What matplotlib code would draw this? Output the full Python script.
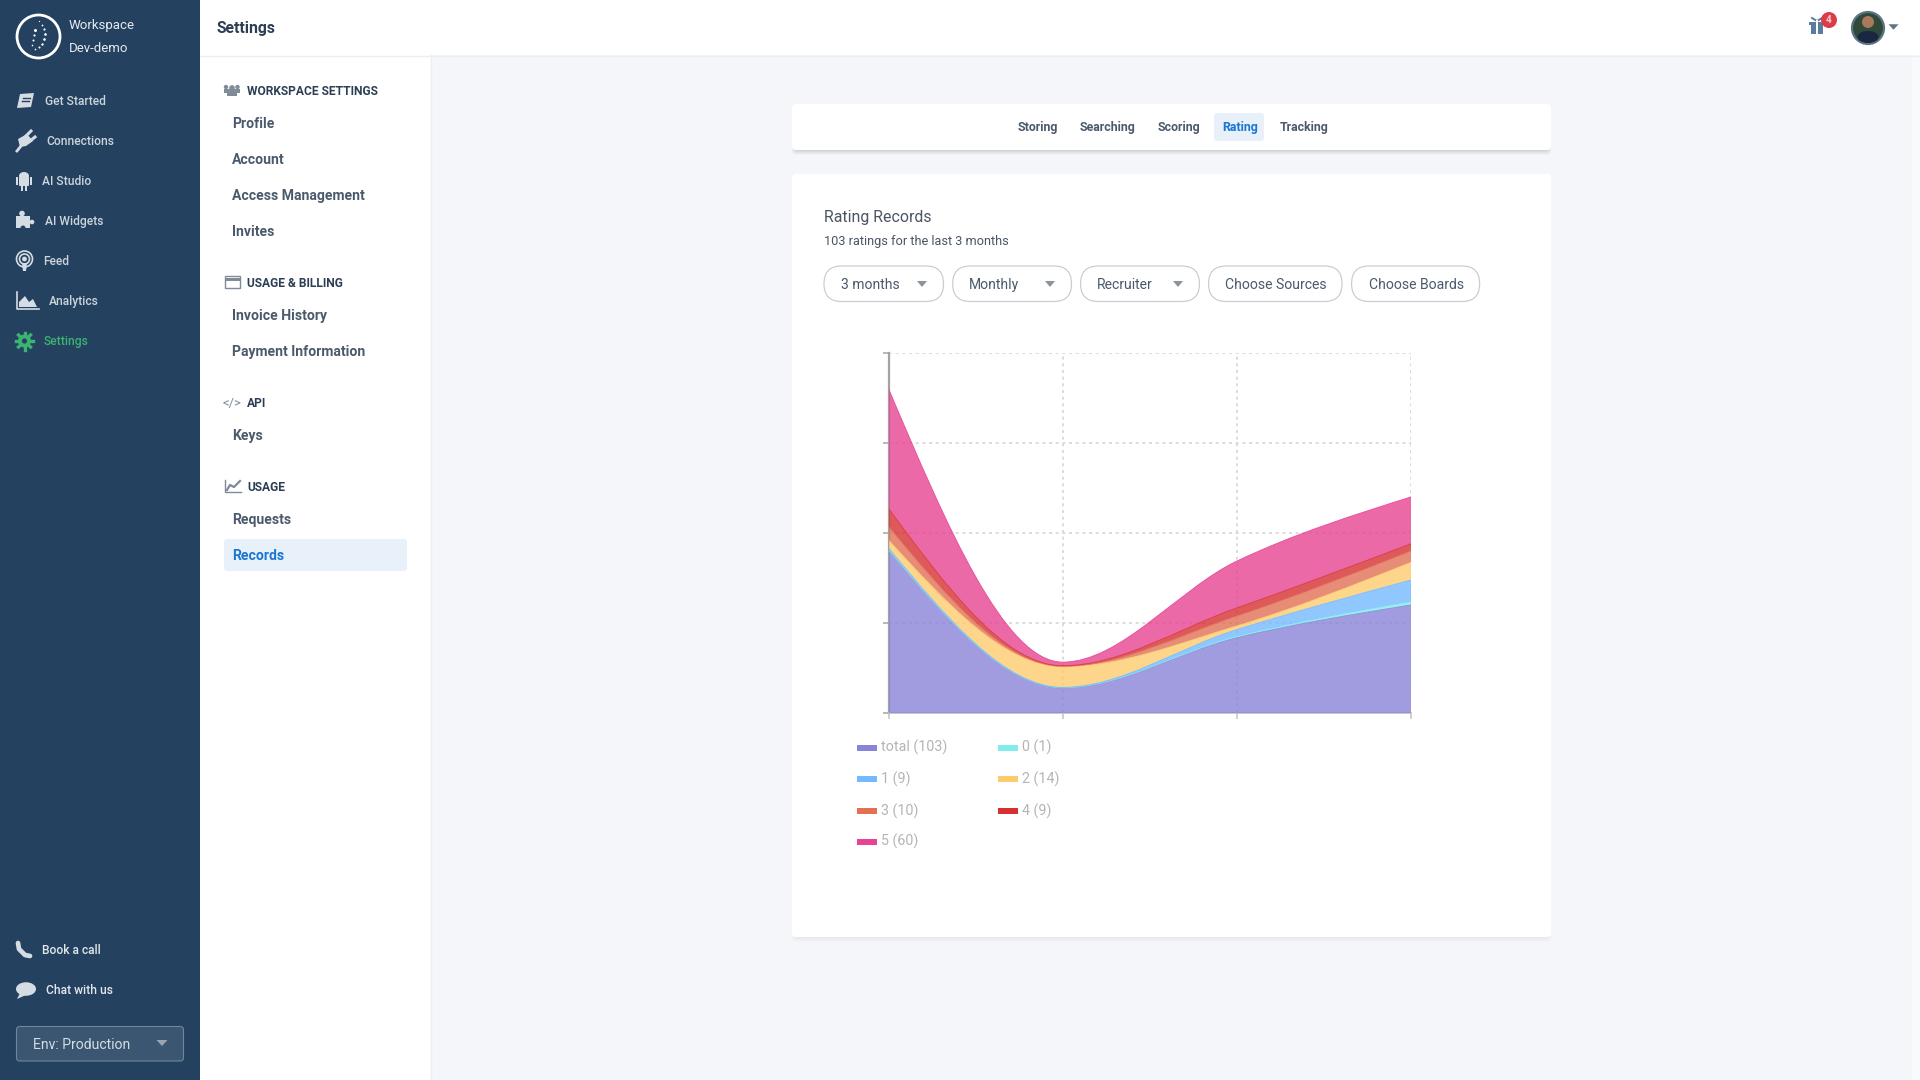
import matplotlib
matplotlib.use("Agg")
import matplotlib.pyplot as plt
from matplotlib.patches import Rectangle, Circle, Ellipse, Polygon, FancyBboxPatch, PathPatch
from matplotlib.path import Path
import numpy as np

plt.rcParams['font.family'] = ['Roboto', 'DejaVu Sans']

# chart data (y axis has no labels, 0-40 assumed)
months = [0, 1, 2, 3]
total_vals = [18.07, 2.78, 8.37, 12.0]
r0_vals = [0.02, 0.02, 0.1, 0.33]
r1_vals = [0.2, 0.04, 0.8, 2.44]
r2_vals = [0.9, 2.3, 0.4, 1.96]
r3_vals = [1.5, 0.04, 1.1, 1.26]
r4_vals = [2.0, 0.07, 0.9, 0.8]
r5_vals = [13.3, 0.4, 5.2, 5.2]
series_vals = [total_vals, r0_vals, r1_vals, r2_vals, r3_vals, r4_vals, r5_vals]
series_colors = ["#8884d8", "#81ecec", "#74b9ff", "#fdcb6e", "#e17055", "#d63031", "#e84393"]
legend_labels = ["total (103)", "0 (1)", "1 (9)", "2 (14)", "3 (10)", "4 (9)", "5 (60)"]

side_items = ["Get Started", "Connections", "AI Studio", "AI Widgets", "Feed", "Analytics", "Settings"]
side_item_x = [45, 46, 42, 45, 43.5, 49, 43.5]
tab_labels = ["Storing", "Searching", "Scoring", "Rating", "Tracking"]
tab_x = [1018, 1080, 1158, 1222, 1280]

NAVY = "#24425f"
TXT = "#4a5a6c"
DARK = "#2c3e55"
BLUE = "#1976d2"
GREEN = "#3cb371"
ICON = "#d5dce3"
GREY_ICON = "#7f8b99"


def px(size):
    return size * 0.72


fig = plt.figure(figsize=(19.2, 10.8), dpi=100, facecolor="#f5f6fa")
ui = fig.add_axes([0, 0, 1, 1])
ui.set_xlim(0, 1920)
ui.set_ylim(1080, 0)
ui.axis("off")


def label(x, y, s, size=14, color=TXT, weight="normal", ha="left"):
    ui.text(x, y-0.6, s, fontsize=px(size), color=color, fontweight=weight, ha=ha, va="center_baseline", zorder=6)


def box(x0, y0, x1, y1, fc, ec="none", r=0, lw=1, alpha=1, z=1):
    if r == 0:
        p = Rectangle((x0, y0), x1-x0, y1-y0, fc=fc, ec=ec, lw=lw, alpha=alpha, zorder=z)
    else:
        p = FancyBboxPatch((x0+r, y0+r), x1-x0-2*r, y1-y0-2*r, boxstyle="round,pad=%g,rounding_size=%g" % (r, r),
                           fc=fc, ec=ec, lw=lw, alpha=alpha, zorder=z)
    ui.add_patch(p)


def tri(x, y, w, h, color):
    ui.add_patch(Polygon([[x-w/2, y-h/2], [x+w/2, y-h/2], [x, y+h/2]], fc=color, ec="none", zorder=4))


def card(x0, y0, x1, y1, strong=False):
    # soft shadow, a few stacked boxes
    a = 0.04 if strong else 0.012
    for i in range(6):
        box(x0+3-i*0.6, y0+4, x1-3+i*0.6, y1+i*0.9, "#38465a", r=4, alpha=a, z=1)
    box(x0, y0, x1, y1, "white", r=4, z=2)


# ---- frame
box(0, 0, 200, 1080, NAVY, z=3)
box(200, 0, 431, 1080, "white", z=1)
ui.plot([431, 431], [55, 1080], color="#eceef2", lw=1, zorder=2)
box(200, 0, 1920, 55, "white", z=1)
ui.plot([200, 1920], [55.5, 55.5], color="#eceef2", lw=1, zorder=2)
box(1912, 55, 1920, 1080, "#f9fafb", z=1)

# ---- logo
ui.add_patch(Circle((38.5, 36.5), 21.5, fc="none", ec="white", lw=2, zorder=4))
for dx, dy, r in [(1, -15, .6), (4, -11, .9), (6, -7, 1.1), (7, -2, 1.3), (6, 3, 1.3), (4, 8, 1.2), (1, 11, 1), (-3, 13, .8),
                  (-3, -6, 1.5), (-4, -1, 1.1), (-5, 4, 1), (-6, 9, .8)]:
    ui.add_patch(Circle((38.5+dx, 36.5+dy), r, fc="white", ec="none", zorder=4))

label(69, 25, "Workspace", 13.3, "#e6eaee")
label(69, 48, "Dev-demo", 13.3, "#e6eaee")

# ---- left nav
for i in range(len(side_items)):
    y = 100.5 + 40*i
    col = GREEN if side_items[i] == "Settings" else "#ccd4dc"
    label(side_item_x[i], y, side_items[i], 12, col, 500)

# book
ui.add_patch(Polygon([[20, 94], [34, 93], [31, 107], [17, 108]], fc=ICON, ec="none", zorder=4))
ui.plot([23, 30], [98, 98], color=NAVY, lw=1, zorder=5)
ui.plot([22, 29], [101, 101], color=NAVY, lw=1, zorder=5)
# plug
ui.add_patch(Polygon([[18, 139], [27, 134], [33, 141], [26, 146], [20, 147]], fc=ICON, ec="none", zorder=4))
ui.plot([17, 21], [151, 146], color=ICON, lw=2, zorder=4)
ui.plot([26, 31], [136, 131], color=ICON, lw=2.2, zorder=4)
ui.plot([30, 35], [141, 137], color=ICON, lw=2.2, zorder=4)
# android
box(19, 177, 29, 186, ICON, r=1, z=4)
ui.add_patch(Ellipse((24, 176), 10, 8, fc=ICON, ec="none", zorder=4))
box(16, 177, 18, 185, ICON, z=4)
box(30, 177, 32, 185, ICON, z=4)
box(21, 186, 23, 191, ICON, z=4)
box(25, 186, 27, 191, ICON, z=4)
# puzzle
box(16, 216, 30, 228, ICON, z=4)
ui.add_patch(Circle((22, 213.5), 2.8, fc=ICON, ec="none", zorder=4))
ui.add_patch(Circle((32, 222), 2.3, fc=ICON, ec="none", zorder=4))
ui.add_patch(Circle((23, 228), 2.5, fc=NAVY, ec="none", zorder=5))
# feed
for r_ in [8, 5]:
    ui.add_patch(Circle((24.5, 259), r_, fc="none", ec=ICON, lw=1.2, zorder=4))
ui.add_patch(Circle((24.5, 259), 2.4, fc=ICON, ec="none", zorder=4))
ui.add_patch(Polygon([[22, 263], [27, 263], [26, 271], [23, 271]], fc=ICON, ec="none", zorder=5))
# analytics
ui.plot([16.5, 16.5, 38.5], [292, 309, 309], color=ICON, lw=1.2, zorder=4)
ui.add_patch(Polygon([[19, 307], [19, 302], [25, 296], [29, 302], [33, 299], [37, 307]], fc=ICON, ec="none", zorder=4))
# gear
ui.add_patch(Circle((24.5, 341), 6.5, fc=GREEN, ec="none", zorder=4))
ui.add_patch(Circle((24.5, 341), 2.6, fc=NAVY, ec="none", zorder=5))
for a_ in np.deg2rad([0, 45, 90, 135]):
    ui.plot([24.5-8.5*np.cos(a_), 24.5+8.5*np.cos(a_)], [341-8.5*np.sin(a_), 341+8.5*np.sin(a_)],
            color=GREEN, lw=2.4, zorder=3.5)
# phone
ui.plot([18, 19, 25, 30], [943, 949, 955, 956], color=ICON, lw=3.4, zorder=4, solid_capstyle="round")
# chat
ui.add_patch(Ellipse((26, 989), 20, 13.5, fc=ICON, ec="none", zorder=4))
ui.add_patch(Polygon([[20, 993], [26, 995], [17, 999]], fc=ICON, ec="none", zorder=4))
label(42, 949.5, "Book a call", 12, "#e2e7ec", 500)
label(46, 989.5, "Chat with us", 12, "#e2e7ec", 500)
box(16.5, 1026.5, 183.5, 1061, "#3a5670", ec="#6f8598", r=3, lw=0.8, z=4)
label(33, 1044, "Env: Production", 14, "#d5dce3")
tri(162, 1043, 11, 6, "#9aa5b0")

# ---- header
label(216.5, 27.5, "Settings", 15.8, DARK, "bold")
box(1811, 25, 1823, 34, "#5b7c9d", z=3)
box(1809, 21.5, 1825, 25, "#5b7c9d", z=3)
ui.plot([1817, 1817], [21, 34], color="white", lw=1.4, zorder=4)
ui.plot([1812, 1817, 1822], [18, 21, 18], color="#5b7c9d", lw=1.4, zorder=3)
ui.add_patch(Circle((1829, 20), 8, fc="#dc3c4a", ec="none", zorder=5))
ui.text(1829, 20, "4", fontsize=px(10), color="#f5d0d3", ha="center", va="center", fontweight="bold", zorder=6)
ui.add_patch(Circle((1868, 28), 16, fc="#2f4a38", ec="#5d7488", lw=1.6, zorder=3))
ui.add_patch(Ellipse((1868, 37), 21, 12, fc="#1a2740", ec="none", zorder=4))
ui.add_patch(Circle((1868, 22), 6, fc="#a8795c", ec="none", zorder=4))
tri(1893.5, 27, 10, 5.5, "#5d7488")

# ---- settings menu
ui.add_patch(Circle((232, 88), 2.8, fc=GREY_ICON, ec="none", zorder=3))
ui.add_patch(Circle((226, 87), 2.2, fc=GREY_ICON, ec="none", zorder=3))
ui.add_patch(Circle((237.5, 87), 2.2, fc=GREY_ICON, ec="none", zorder=3))
box(224, 89, 240, 93, GREY_ICON, z=3)
box(227, 91, 237, 96, GREY_ICON, z=3)
box(224.5, 275.5, 239.5, 287.5, "white", ec=GREY_ICON, lw=1, z=3)
box(224.5, 278, 239.5, 281, GREY_ICON, z=3)
ui.text(232, 402, "</>", fontsize=px(13), color=GREY_ICON, ha="center", va="center_baseline")
ui.plot([224.5, 224.5, 241], [480, 491.5, 491.5], color=GREY_ICON, lw=1, zorder=3)
ui.plot([227, 230, 234, 240], [490, 485, 487, 481], color=GREY_ICON, lw=1.6, zorder=3)

label(247, 90.5, "WORKSPACE SETTINGS", 12, DARK, "bold")
label(247, 282.5, "USAGE & BILLING", 12, DARK, "bold")
label(247, 402.5, "API", 12, DARK, "bold")
label(247, 486.5, "USAGE", 12, DARK, "bold")
label(232, 123, "Profile", 14, TXT, "bold")
label(232, 159, "Account", 14, TXT, "bold")
label(232, 195, "Access Management", 14, TXT, "bold")
label(232, 231, "Invites", 14, TXT, "bold")
label(232, 315, "Invoice History", 14, TXT, "bold")
label(232, 351, "Payment Information", 14, TXT, "bold")
label(232, 435, "Keys", 14, TXT, "bold")
label(232, 519, "Requests", 14, TXT, "bold")
box(224, 539, 407, 571, "#e8f0fa", r=3, z=1)
label(232, 555, "Records", 14, BLUE, "bold")

# ---- cards
card(792, 104, 1551, 150, strong=True)
card(792, 174, 1551, 937)
box(1214, 113, 1264, 141, "#e8f0fa", r=3, z=3)
for i in range(len(tab_labels)):
    col = BLUE if tab_labels[i] == "Rating" else TXT
    label(tab_x[i], 127, tab_labels[i], 12.4, col, "bold")

label(824, 216.5, "Rating Records", 15.9, "#4a5563")
label(824, 241, "103 ratings for the last 3 months", 12.75, "#4a5563")

pill_x = [(824, 943.5), (952.7, 1071.5), (1080.6, 1199.4), (1208.6, 1342), (1351.6, 1479.6)]
pill_txt = ["3 months", "Monthly", "Recruiter", "Choose Sources", "Choose Boards"]
pill_txt_x = [841, 969, 1097, 1225, 1368.6]
pill_tri_x = [922, 1050, 1178]
for i in range(5):
    box(pill_x[i][0], 266, pill_x[i][1], 301.5, "white", ec="#c9ced6", r=17.5, lw=0.9, z=3)
    label(pill_txt_x[i], 284, pill_txt[i], 14, TXT)
for x_ in pill_tri_x:
    tri(x_, 284, 10, 6, "#8b939d")

# ---- legend
leg_x = [857, 998]
leg_y = [747.5, 779, 811, 841.5]
for i in range(len(legend_labels)):
    col_i = i % 2
    row_i = i // 2
    box(leg_x[col_i], leg_y[row_i]-3, leg_x[col_i]+20, leg_y[row_i]+3, series_colors[i], z=3)
    label(leg_x[col_i]+24, leg_y[row_i]-1, legend_labels[i], 14.3, "#b4b4b4")


# ---- chart
def monotone_slopes(x, y):
    x = np.asarray(x, float)
    y = np.asarray(y, float)
    n = len(x)
    t = np.zeros(n)
    for i in range(1, n-1):
        h0 = x[i]-x[i-1]
        h1 = x[i+1]-x[i]
        s0 = (y[i]-y[i-1])/h0
        s1 = (y[i+1]-y[i])/h1
        p = (s0*h1+s1*h0)/(h0+h1)
        t[i] = (np.sign(s0)+np.sign(s1))*min(abs(s0), abs(s1), 0.5*abs(p))
    t[0] = (3*(y[1]-y[0])/(x[1]-x[0])-t[1])/2
    t[-1] = (3*(y[-1]-y[-2])/(x[-1]-x[-2])-t[-2])/2
    return t


def curve_verts(x, y):
    t = monotone_slopes(x, y)
    verts = [(x[0], y[0])]
    for i in range(len(x)-1):
        dx = (x[i+1]-x[i])/3.0
        verts.append((x[i]+dx, y[i]+dx*t[i]))
        verts.append((x[i+1]-dx, y[i+1]-dx*t[i+1]))
        verts.append((x[i+1], y[i+1]))
    return verts


chart = fig.add_axes([888.6/1920, (1080-713)/1080, (1411-888.6)/1920, (713-352.7)/1080], zorder=2)
chart.patch.set_alpha(0)
chart.set_xlim(0, 3)
chart.set_ylim(0, 40)
chart.set_xticks(months)
chart.set_yticks([0, 10, 20, 30, 40])
chart.set_xticklabels([])
chart.set_yticklabels([])
chart.set_axisbelow(True)
chart.grid(True, color="#d6d6d6", lw=1.2, ls=(0, (1.8, 2.2)))
for s in ["top", "right"]:
    chart.spines[s].set_visible(False)
chart.spines["left"].set_color("#a3a3a3")
chart.spines["left"].set_linewidth(1.6)
chart.spines["bottom"].set_color("#c4c4c4")
chart.spines["bottom"].set_linewidth(1.3)
chart.tick_params(axis="y", length=4.3, width=1.1, color="#a3a3a3")
chart.tick_params(axis="x", length=4.3, width=1.1, color="#c4c4c4")

base = np.zeros(len(months))
for vals, col in zip(series_vals, series_colors):
    top = base + np.array(vals)
    up = curve_verts(months, top)
    low = curve_verts(months, base)[::-1]
    n_seg = len(up)-1
    verts = up + [low[0]] + low[1:] + [up[0]]
    codes = [Path.MOVETO] + [Path.CURVE4]*n_seg + [Path.LINETO] + [Path.CURVE4]*n_seg + [Path.CLOSEPOLY]
    chart.add_patch(PathPatch(Path(verts, codes), fc=col, ec="none", alpha=0.8, zorder=3))
    edge_codes = [Path.MOVETO] + [Path.CURVE4]*n_seg
    chart.add_patch(PathPatch(Path(up, edge_codes), fc="none", ec=col, lw=0.6, alpha=0.9, zorder=4))
    base = top

fig.savefig("out.png", dpi=100, facecolor=fig.get_facecolor())
